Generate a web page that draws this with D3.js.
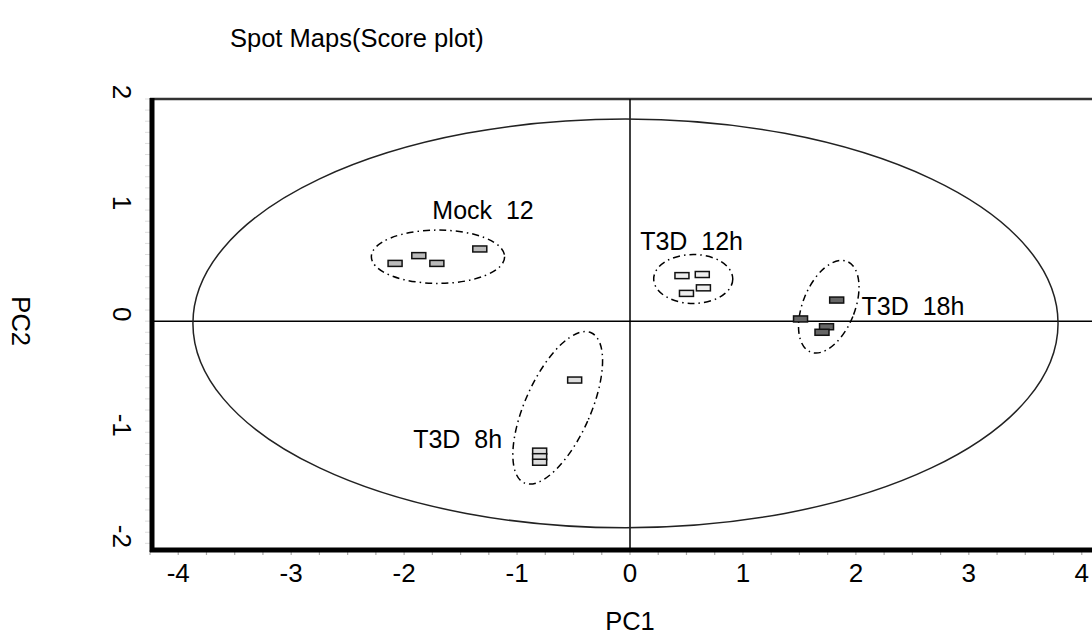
<!DOCTYPE html>
<html lang="en">
<head>
<meta charset="UTF-8">
<title>Spot Maps</title>
<script src="https://d3js.org/d3.v7.min.js"></script>
<style>
  body { margin: 0; background: #fff; }
  text { font-family: "Liberation Sans", Arial, sans-serif; fill: #000; }
</style>
</head>
<body>
<div id="fig"></div>
<script>
// score values (PC1, PC2)
let mockPts = [[-2.08, 0.52], [-1.87, 0.59], [-1.71, 0.52], [-1.33, 0.65]];
let t12Pts = [[0.46, 0.41], [0.64, 0.42], [0.50, 0.25], [0.65, 0.30]];
let t18Pts = [[1.83, 0.19], [1.51, 0.02], [1.74, -0.05], [1.70, -0.10]];
let t8Pts = [[-0.49, -0.53], [-0.80, -1.17], [-0.80, -1.22], [-0.80, -1.27]];

// group ellipses: centre, semi axes (PC units), tilt in degrees; label anchor
let groupNames = ["Mock  12", "T3D  12h", "T3D  18h", "T3D  8h"];
let groupEll = [[-1.70, 0.58, 0.59, 0.24, 0], [0.56, 0.38, 0.35, 0.22, 0],
                [1.76, 0.13, 0.23, 0.44, 22], [-0.64, -0.78, 0.29, 0.74, 24]];
let groupLabel = [[-1.75, 0.92], [0.09, 0.64], [2.05, 0.06], [-1.92, -1.14]];

// Hotelling ellipse
let bigEll = [-0.04, -0.02, 3.83, 1.84];

let xTicks = [-4, -3, -2, -1, 0, 1, 2, 3, 4];
let yTicks = [2, 1, 0, -1, -2];

let W = 1092, H = 639;
let svg = d3.select("#fig").append("svg").attr("width", W).attr("height", H);

let x = d3.scaleLinear().domain([-4.25, 4.25]).range([150, 1110]);
let y = d3.scaleLinear().domain([-2.06, 2]).range([550, 99]);
let ux = x(1) - x(0), uy = y(0) - y(1);

// title and axis names
svg.append("text").attr("x", 230).attr("y", 47).style("font-size", "25.5px")
    .text("Spot Maps(Score plot)");
svg.append("text").attr("x", 630).attr("y", 630).attr("text-anchor", "middle")
    .style("font-size", "25.5px").text("PC1");
svg.append("text").attr("transform", "translate(21," + y(0) + ") rotate(90)")
    .attr("text-anchor", "middle").attr("dy", "0.35em")
    .style("font-size", "25.5px").text("PC2");

// minor ticks
let minor = d3.range(-4.25, 4.26, 0.25);
svg.append("g").selectAll("line").data(minor).join("line")
    .attr("x1", d => x(d)).attr("x2", d => x(d))
    .attr("y1", y(-2.06)).attr("y2", y(-2.06) + 5)
    .attr("stroke", "#aaa").attr("stroke-width", 1.2);
svg.append("g").selectAll("line").data(d3.range(-2, 2.01, 0.1)).join("line")
    .attr("x1", x(-4.25) - 5).attr("x2", x(-4.25))
    .attr("y1", d => y(d)).attr("y2", d => y(d))
    .attr("stroke", "#ddd").attr("stroke-width", 1);

// tick labels
svg.append("g").selectAll("text").data(xTicks).join("text")
    .attr("x", d => x(d)).attr("y", 582).attr("text-anchor", "middle")
    .style("font-size", "26px").text(d => d);
svg.append("g").selectAll("text").data(yTicks).join("text")
    .attr("transform", d => "translate(122," + (y(d) - 7) + ") rotate(90)")
    .attr("text-anchor", "middle").attr("dy", "0.35em")
    .style("font-size", "26px").text(d => d);

// frame
svg.append("line").attr("x1", x(-4.25)).attr("x2", W).attr("y1", y(2)).attr("y2", y(2))
    .attr("stroke", "#333").attr("stroke-width", 2.5);
svg.append("line").attr("x1", x(-4.25) + 2).attr("x2", x(-4.25) + 2)
    .attr("y1", y(2) - 1).attr("y2", y(-2.06) + 2)
    .attr("stroke", "#000").attr("stroke-width", 5);
svg.append("line").attr("x1", x(-4.25)).attr("x2", W)
    .attr("y1", y(-2.06)).attr("y2", y(-2.06))
    .attr("stroke", "#000").attr("stroke-width", 5);

// cross hairs
svg.append("line").attr("x1", x(0)).attr("x2", x(0)).attr("y1", y(2)).attr("y2", y(-2.06))
    .attr("stroke", "#000").attr("stroke-width", 1.5);
svg.append("line").attr("x1", x(-4.25)).attr("x2", W).attr("y1", y(0)).attr("y2", y(0))
    .attr("stroke", "#000").attr("stroke-width", 1.5);

// big ellipse
svg.append("ellipse").attr("cx", x(bigEll[0])).attr("cy", y(bigEll[1]))
    .attr("rx", bigEll[2] * ux).attr("ry", bigEll[3] * uy)
    .attr("fill", "none").attr("stroke", "#222").attr("stroke-width", 1.5);

// group ellipses
svg.append("g").selectAll("ellipse").data(groupEll).join("ellipse")
    .attr("transform", d => "translate(" + x(d[0]) + "," + y(d[1]) + ") rotate(" + d[4] + ")")
    .attr("rx", d => d[2] * ux).attr("ry", d => d[3] * uy)
    .attr("fill", "none").attr("stroke", "#000").attr("stroke-width", 1.5)
    .attr("stroke-dasharray", "7,4,1.5,4");

// group labels
svg.append("g").selectAll("text").data(groupNames).join("text")
    .attr("x", (d, i) => x(groupLabel[i][0])).attr("y", (d, i) => y(groupLabel[i][1]))
    .style("font-size", "25px").style("white-space", "pre").text(d => d);

// markers
let allPts = [
    {pts: mockPts, fill: "#bbb"}, {pts: t12Pts, fill: "#eee"},
    {pts: t18Pts, fill: "#666"}, {pts: t8Pts, fill: "#ddd"}];
allPts.forEach(function (s) {
    svg.append("g").selectAll("rect").data(s.pts).join("rect")
        .attr("x", d => x(d[0]) - 7).attr("y", d => y(d[1]) - 3)
        .attr("width", 14).attr("height", 6)
        .attr("fill", s.fill).attr("stroke", "#111").attr("stroke-width", 1.5);
});
</script>
</body>
</html>
